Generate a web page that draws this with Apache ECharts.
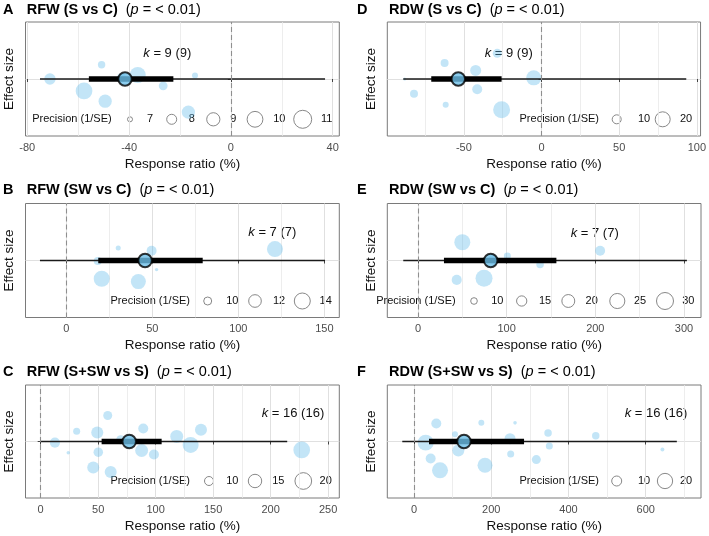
<!DOCTYPE html>
<html><head><meta charset="utf-8">
<script src="https://cdn.jsdelivr.net/npm/echarts@6/dist/echarts.min.js"></script>
<style>html,body{margin:0;padding:0;background:#fff}#c{width:709px;height:536px}</style>
</head><body><div id="c"></div>
<script>
// ---------------- DATA ----------------
const panelLetters = ['A','B','C','D','E','F'];
const panelTraits = ['RFW','RFW','RFW','RDW','RDW','RDW'];
const panelContrasts = ['S vs C','SW vs C','S+SW vs S','S vs C','SW vs C','S+SW vs S'];
const panelPvals = ['< 0.01','< 0.01','< 0.01','< 0.01','< 0.01','< 0.01'];
const panelK = ['9 (9)','7 (7)','16 (16)','9 (9)','7 (7)','16 (16)'];

// individual effect sizes: response ratio (%), jitter position, precision (1/SE)
const rfwSvC_rr   = [-71.1, -50.8, -36.6, -14.1, -57.7, -26.6, -49.4, -16.7, -43.0];
const rfwSvC_jit  = [0.0, 0.25, 0.07, 0.06, -0.21, -0.12, -0.39, -0.58, 0.02];
const rfwSvC_prec = [8.4, 7.4, 10.1, 7.15, 10.4, 7.7, 9.0, 9.0, 7.8];

const rfwSWvC_rr   = [121.3, 30.2, 49.6, 18.3, 52.5, 20.6, 41.9];
const rfwSWvC_jit  = [0.2, 0.22, 0.17, -0.01, -0.16, -0.32, -0.37];
const rfwSWvC_prec = [14.0, 9.2, 10.75, 10.0, 8.9, 14.0, 13.35];

const rfwSSWvS_rr   = [58.3, 31.3, 49.2, 89.2, 139.4, 118.3, 12.4, 69.6, 130.4, 227.0, 24.0, 50.1, 87.8, 98.5, 45.7, 60.9];
const rfwSSWvS_jit  = [0.46, 0.18, 0.16, 0.23, 0.21, 0.09, -0.02, 0.03, -0.06, -0.15, -0.2, -0.19, -0.16, -0.23, -0.46, -0.54];
const rfwSSWvS_prec = [10.0, 8.4, 13.2, 11.0, 13.2, 14.4, 11.0, 10.0, 18.8, 20.0, 6.5, 10.5, 14.4, 11.0, 13.2, 13.2];

const rdwSvC_rr   = [-28.5, -62.4, -42.4, -5.0, -88.1, -41.4, -82.1, -61.7, -25.7];
const rdwSvC_jit  = [0.45, 0.28, 0.15, 0.02, 0.0, -0.18, -0.26, -0.45, -0.54];
const rdwSvC_prec = [10.0, 8.8, 12.8, 20.0, 5.0, 11.3, 8.8, 6.9, 24.4];

const rdwSWvC_rr   = [50.0, 205.4, 100.8, 137.7, 43.7, 74.5, 85.0];
const rdwSWvC_jit  = [0.32, 0.17, 0.08, -0.07, -0.34, -0.31, 0.02];
const rdwSWvC_prec = [27.3, 14.6, 10.4, 11.0, 14.6, 30.0, 14.6];

const rdwSSWvS_rr   = [57.8, 174.4, 261.7, 106.2, 347.2, 470.7, 30.3, 248.7, 350.5, 643.3, 114.8, 43.2, 250.4, 316.8, 183.9, 67.4];
const rdwSSWvS_jit  = [0.32, 0.33, 0.33, 0.13, 0.15, 0.1, -0.02, 0.05, -0.08, -0.14, -0.16, -0.3, -0.22, -0.32, -0.42, -0.51];
const rdwSSWvS_prec = [10.0, 5.2, 3.5, 5.2, 6.7, 6.7, 21.6, 11.6, 6.2, 3.7, 13.3, 10.0, 6.2, 8.6, 19.3, 21.6];

// model estimates
const meanEst = [-41.6, 45.8, 77.0, -53.6, 82.0, 129.5];
const ciLow   = [-55.8, 18.6, 53.0, -71.0, 29.3, 38.9];
const ciHigh  = [-22.6, 79.3, 105.2, -25.7, 156.1, 285.0];
const piLow   = [-75.0, -15.3, 0.0, -89.0, -16.6, -30.3];
const piHigh  = [37.0, 150.4, 214.4, 93.2, 303.3, 680.6];

// axis ticks
const majorTicks = [[-80,-40,0,40],[0,50,100,150],[0,50,100,150,200,250],[-50,0,50,100],[0,100,200,300],[0,200,400,600]];
const minorTicks = [[-60,-20,20],[25,75,125],[25,75,125,175,225],[-75,-25,25,75],[50,150,250],[100,300,500,700]];
const legendBreaks = [[7,8,9,10,11],[10,12,14],[10,15,20],[10,20],[10,15,20,25,30],[10,20]];

const panelRR   = [rfwSvC_rr, rfwSWvC_rr, rfwSSWvS_rr, rdwSvC_rr, rdwSWvC_rr, rdwSSWvS_rr];
const panelJit  = [rfwSvC_jit, rfwSWvC_jit, rfwSSWvS_jit, rdwSvC_jit, rdwSWvC_jit, rdwSSWvS_jit];
const panelPrec = [rfwSvC_prec, rfwSWvC_prec, rfwSSWvS_prec, rdwSvC_prec, rdwSWvC_prec, rdwSSWvS_prec];

// ---------------- LAYOUT / STYLE ----------------
const FONT = '"Liberation Sans", Arial, Helvetica, sans-serif';
const gridPos = [
  {left:25.5, top:22,    width:313.8, height:114},
  {left:25.5, top:203.5, width:313.8, height:114},
  {left:25.5, top:385,   width:313.8, height:113},
  {left:387.3, top:22,   width:313.7, height:114},
  {left:387.3, top:203.5,width:313.7, height:114},
  {left:387.3, top:385,  width:313.7, height:113}
];
const xRange = [[-80.7,42.6],[-23.7,158.7],[-13.2,259.7],[-99.3,102.4],[-34.6,319.2],[-69.1,743.2]];
const sizeScale = [[-498,74.75],[-416,48],[-117,19.8],[-63,14.4],[-78.5,12.25],[-34,13.4]];
function diam(i,p){ const s=sizeScale[i]; return Math.sqrt(Math.max(s[0]+s[1]*p, 6)); }

const letterX = [3,3,3,357,357,357];
const titleX = [26.7,26.7,26.7,389,389,389];
const titleY = [10,190,371.7,10,190,371.7];
const kPos = [[143.3,53.3],[248.3,232.3],[261.7,413.3],[484.7,53.3],[570.7,233.3],[624.7,413.3]];
const legTextRight = [111.7,190,190,599,455.7,599];
const legY = [119.3,301,481,119.3,301,481];
const legCircleX = [[130,171.7,213.3,255,302.7],[207.7,255,302.3],[209,255,303.3],[616.7,662.7],[474,521.7,568.3,617.3,665],[616.7,665]];
const legLabelX = [[150,191.7,233.3,279.3,326.7],[232.3,279,325.7],[232.3,278.3,325.7],[644,686],[497.3,545,591.7,640,688.3],[644,686]];

const grids=[], xAxes=[], yAxes=[], series=[], graphics=[];
for (let i=0;i<6;i++){
  grids.push(Object.assign({show:true, borderColor:'#7a7a7a', borderWidth:1, backgroundColor:'transparent'}, gridPos[i]));
  // main x axis
  xAxes.push({
    gridIndex:i, type:'value', min:xRange[i][0], max:xRange[i][1],
    axisLine:{show:false},
    axisTick:{show:true, customValues:majorTicks[i], length:3, lineStyle:{color:'#444', width:1}},
    axisLabel:{customValues:majorTicks[i], color:'#4d4d4d', fontSize:11, margin:6, fontFamily:FONT},
    splitLine:{show:true, lineStyle:{color:'#e0e0e0', width:1}},
    name:'Response ratio (%)', nameLocation:'middle', nameGap:21,
    nameTextStyle:{fontSize:13.5, color:'#111', fontFamily:FONT}
  });
  // minor grid axis
  xAxes.push({
    gridIndex:i, type:'value', min:xRange[i][0], max:xRange[i][1], show:true,
    axisLine:{show:false}, axisLabel:{show:false},
    axisTick:{show:false, customValues:minorTicks[i]},
    splitLine:{show:true, lineStyle:{color:'#e9e9e9', width:0.8}}
  });
  yAxes.push({
    gridIndex:i, type:'value', min:-1, max:1,
    axisLine:{show:false},
    axisTick:{show:true, customValues:[0], length:3, lineStyle:{color:'#444'}},
    axisLabel:{show:false, customValues:[0]},
    splitLine:{show:true, lineStyle:{color:'#e0e0e0', width:1}},
    name:'Effect size', nameLocation:'middle', nameGap:9,
    nameTextStyle:{fontSize:13.5, color:'#111', fontFamily:FONT}
  });
  const pts = panelRR[i].map((v,j)=>[v, panelJit[i][j], panelPrec[i][j]]);
  series.push({
    type:'scatter', xAxisIndex:2*i, yAxisIndex:i, data:pts, z:2,
    symbolSize:(v)=>diam(i,v[2]),
    itemStyle:{color:'rgba(86,180,233,0.44)'},
    markLine:{silent:true, symbol:['none','none'], label:{show:false},
      lineStyle:{color:'#8f8f8f', type:[5,3], width:1.1}, data:[{xAxis:0}]}
  });
  series.push({
    type:'line', xAxisIndex:2*i, yAxisIndex:i, data:[[piLow[i],0],[piHigh[i],0]],
    showSymbol:false, symbol:'none', z:3, lineStyle:{color:'#1a1a1a', width:1.5}
  });
  series.push({
    type:'line', xAxisIndex:2*i, yAxisIndex:i, data:[[ciLow[i],0],[ciHigh[i],0]],
    showSymbol:false, symbol:'none', z:4, lineStyle:{color:'#000', width:5.5, cap:'butt'}
  });
  series.push({
    type:'scatter', xAxisIndex:2*i, yAxisIndex:i, data:[[meanEst[i],0]], z:5,
    symbolSize:13.5, itemStyle:{color:'#6dbfe8', borderColor:'#000', borderWidth:2}
  });
  // title
  graphics.push({type:'text', x:letterX[i], y:titleY[i], style:{
    text:panelLetters[i], fill:'#000', font:'bold 14.5px '+FONT, verticalAlign:'middle', align:'left'}});
  graphics.push({type:'text', x:titleX[i], y:titleY[i], style:{
    text:'{b|'+panelTraits[i]+' ('+panelContrasts[i]+')}{n|  (}{i|p}{n| = '+panelPvals[i]+')}',
    verticalAlign:'middle', align:'left', fill:'#000',
    rich:{
      b:{fontWeight:'bold', fontSize:14.5, fontFamily:FONT, fill:'#000'},
      n:{fontSize:14.5, fontFamily:FONT, fill:'#000'},
      i:{fontSize:14.5, fontStyle:'italic', fontFamily:FONT, fill:'#000'}
    }}});
  // k label
  graphics.push({type:'text', x:kPos[i][0], y:kPos[i][1], style:{
    text:'{i|k}{n| = '+panelK[i]+'}', verticalAlign:'middle', align:'left',
    rich:{ i:{fontSize:13, fontStyle:'italic', fontFamily:FONT, fill:'#111'},
           n:{fontSize:13, fontFamily:FONT, fill:'#111'} }}});
  // precision legend
  graphics.push({type:'text', x:legTextRight[i], y:legY[i], style:{
    text:'Precision (1/SE)', font:'11px '+FONT, fill:'#111', verticalAlign:'middle', align:'right'}});
  legendBreaks[i].forEach((b,j)=>{
    graphics.push({type:'circle', shape:{cx:legCircleX[i][j], cy:legY[i], r:diam(i,b)/2},
      style:{fill:'rgba(255,255,255,0)', stroke:'#7a7a7a', lineWidth:0.9}});
    graphics.push({type:'text', x:legLabelX[i][j], y:legY[i], style:{
      text:String(b), font:'11px '+FONT, fill:'#111', verticalAlign:'middle', align:'center'}});
  });
}

const chart = echarts.init(document.getElementById('c'), null, {renderer:'canvas'});
chart.setOption({
  animation:false,
  backgroundColor:'#fff',
  grid:grids, xAxis:xAxes, yAxis:yAxes, series:series, graphic:graphics
});
</script></body></html>
